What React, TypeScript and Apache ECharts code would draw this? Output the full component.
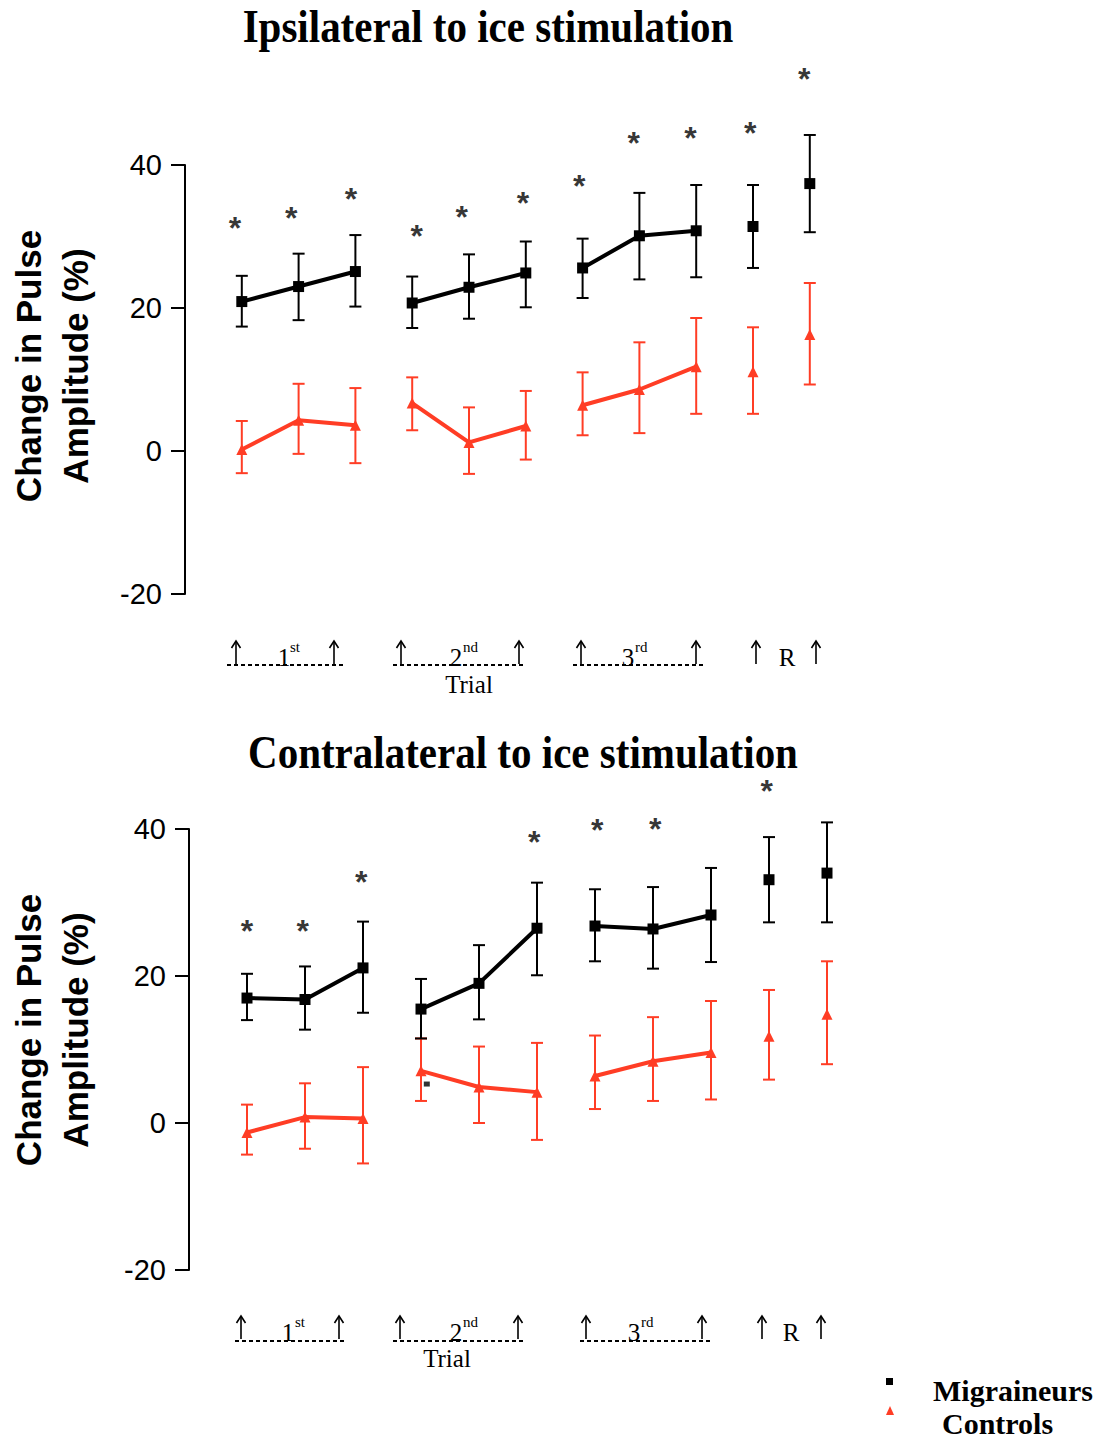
import React, { useEffect, useRef } from "react";
import * as echarts from "echarts";

// ---------- data ----------
const positions = [1, 2, 3, 4, 5, 6, 7, 8, 9, 10, 11];
const groups = [[0, 1, 2], [3, 4, 5], [6, 7, 8], [9], [10]];
const yTicks = [-20, 0, 20, 40];

// Ipsilateral to ice stimulation
const ipsiMig = [20.9, 23.0, 25.1, 20.7, 22.9, 24.9, 25.6, 30.1, 30.8, 31.4, 37.4];
const ipsiMigLow = [17.4, 18.3, 20.2, 17.2, 18.5, 20.1, 21.4, 24.0, 24.3, 25.6, 30.6];
const ipsiMigHigh = [24.5, 27.6, 30.2, 24.4, 27.5, 29.3, 29.7, 36.1, 37.2, 37.2, 44.2];
const ipsiCtl = [0.2, 4.3, 3.6, 6.7, 1.2, 3.5, 6.4, 8.6, 11.8, 11.1, 16.3];
const ipsiCtlLow = [-3.1, -0.4, -1.7, 2.9, -3.2, -1.2, 2.2, 2.5, 5.2, 5.2, 9.3];
const ipsiCtlHigh = [4.2, 9.4, 8.8, 10.3, 6.1, 8.4, 11.0, 15.2, 18.6, 17.3, 23.5];
const ipsiStarX = [0.88, 1.87, 2.92, 4.08, 4.87, 5.95, 6.94, 7.9, 8.9, 9.95, 10.9];
const ipsiStarY = [32.2, 33.5, 36.2, 31.0, 33.7, 35.6, 38.0, 44.0, 44.8, 45.5, 53.0];

// Contralateral to ice stimulation
const contraMig = [17.0, 16.8, 21.1, 15.5, 19.0, 26.5, 26.8, 26.4, 28.3, 33.1, 34.0];
const contraMigLow = [14.0, 12.7, 15.0, 11.5, 14.1, 20.1, 22.0, 21.0, 21.9, 27.3, 27.3];
const contraMigHigh = [20.3, 21.3, 27.4, 19.6, 24.2, 32.7, 31.8, 32.1, 34.7, 38.9, 40.9];
const contraCtl = [-1.3, 0.8, 0.6, 7.1, 4.9, 4.2, 6.4, 8.4, 9.6, 11.8, 14.8];
const contraCtlLow = [-4.3, -3.5, -5.5, 3.0, 0.0, -2.3, 1.9, 3.0, 3.2, 5.9, 8.0];
const contraCtlHigh = [2.5, 5.4, 7.6, 11.5, 10.4, 10.9, 11.9, 14.4, 16.6, 18.1, 22.0];
const contraStarX = [1.0, 1.96, 2.97, 5.95, 7.04, 8.04, 9.96];
const contraStarY = [27.1, 27.1, 33.8, 39.2, 40.8, 41.0, 46.1];
const contraStrayMark = [[4.1, 5.3]];

const titles = ["Ipsilateral to ice stimulation", "Contralateral to ice stimulation"];
const yName = ["Change in Pulse", "Amplitude (%)"];
const trialLabels = [
  { main: "1", sup: "st" },
  { main: "2", sup: "nd" },
  { main: "3", sup: "rd" },
  { main: "R", sup: "" },
];
const legendNames = ["Migraineurs", "Controls"];

// ---------- styles ----------
const BLACK = "#000000";
const RED = "#ff3d25";
const SANS = "'Liberation Sans', Arial, Helvetica, sans-serif";
const SERIF = "'Liberation Serif', 'Times New Roman', Times, serif";

function errorSeries(idx: number, low: number[], high: number[], color: string, z: number) {
  return {
    type: "custom",
    xAxisIndex: idx,
    yAxisIndex: idx,
    z,
    silent: true,
    clip: false,
    data: positions.map((p, i) => [p, low[i], high[i]]),
    encode: { x: 0, y: [1, 2] },
    renderItem: (params: any, api: any) => {
      const x = api.value(0);
      const lo = api.coord([x, api.value(1)]);
      const hi = api.coord([x, api.value(2)]);
      const hw = 6;
      const style = { stroke: color, lineWidth: 2, fill: "none" };
      return {
        type: "group",
        children: [
          { type: "line", shape: { x1: lo[0], y1: lo[1], x2: hi[0], y2: hi[1] }, style },
          { type: "line", shape: { x1: lo[0] - hw, y1: lo[1], x2: lo[0] + hw, y2: lo[1] }, style },
          { type: "line", shape: { x1: hi[0] - hw, y1: hi[1], x2: hi[0] + hw, y2: hi[1] }, style },
        ],
      };
    },
  };
}

function lineSeries(idx: number, vals: number[], color: string, symbol: string, size: number, z: number) {
  return groups.map((g) => ({
    type: "line",
    xAxisIndex: idx,
    yAxisIndex: idx,
    z,
    silent: true,
    clip: false,
    data: g.map((i) => [positions[i], vals[i]]),
    symbol,
    symbolSize: size,
    showSymbol: true,
    lineStyle: { color, width: 4 },
    itemStyle: { color },
  }));
}

function starSeries(idx: number, xs: number[], ys: number[]) {
  return {
    type: "scatter",
    xAxisIndex: idx,
    yAxisIndex: idx,
    z: 10,
    silent: true,
    clip: false,
    data: xs.map((x, i) => [x, ys[i]]),
    symbolSize: 1,
    itemStyle: { color: "rgba(0,0,0,0)" },
    label: {
      show: true,
      formatter: "*",
      position: "inside",
      fontSize: 32,
      fontWeight: "bold",
      color: BLACK,
      fontFamily: SANS,
      offset: [0, 7],
    },
  };
}

type AnnCfg = {
  arrowsX: number[];
  arrowTop: number;
  arrowBottom: number;
  labelX: number[];
  supX: number[];
  mainY: number;
  supY: number;
  dots: number[][];
  dotY: number;
  trialX: number;
  trialY: number;
};

function annotationGraphics(c: AnnCfg) {
  const els: any[] = [];
  const st = { stroke: BLACK, lineWidth: 1.6, fill: "none" };
  c.arrowsX.forEach((x) => {
    els.push({ type: "line", shape: { x1: x, y1: c.arrowTop, x2: x, y2: c.arrowBottom }, style: st });
    els.push({
      type: "polyline",
      shape: { points: [[x - 4.5, c.arrowTop + 7], [x, c.arrowTop], [x + 4.5, c.arrowTop + 7]] },
      style: st,
    });
  });
  trialLabels.forEach((t, i) => {
    els.push({
      type: "text",
      x: c.labelX[i],
      y: c.mainY,
      style: { text: t.main, fontSize: 25, fontFamily: SERIF, fill: BLACK, align: "center", verticalAlign: "middle" },
    });
    if (t.sup) {
      els.push({
        type: "text",
        x: c.supX[i],
        y: c.supY,
        style: { text: t.sup, fontSize: 15, fontFamily: SERIF, fill: BLACK, align: "left", verticalAlign: "middle" },
      });
    }
  });
  c.dots.forEach(([a, b]) =>
    els.push({
      type: "line",
      shape: { x1: a, y1: c.dotY, x2: b, y2: c.dotY },
      style: { stroke: BLACK, lineWidth: 2, lineDash: [4, 3] },
    })
  );
  els.push({
    type: "text",
    x: c.trialX,
    y: c.trialY,
    style: { text: "Trial", fontSize: 25, fontFamily: SERIF, fill: BLACK, align: "center", verticalAlign: "middle" },
  });
  return els;
}

function yAxisCfg(idx: number) {
  return {
    type: "value",
    gridIndex: idx,
    min: yTicks[0],
    max: yTicks[yTicks.length - 1],
    interval: 20,
    axisLine: { show: true, lineStyle: { color: BLACK, width: 2 } },
    axisTick: { show: true, length: 14, lineStyle: { color: BLACK, width: 2 } },
    axisLabel: { color: BLACK, fontSize: 29, fontFamily: SANS, margin: 23 },
    splitLine: { show: false },
  };
}

function xAxisCfg(idx: number) {
  return { type: "value", gridIndex: idx, min: 0, max: 12, show: false };
}

export default function App() {
  const ref = useRef<HTMLDivElement>(null);
  useEffect(() => {
    if (!ref.current) return;
    const chart = echarts.init(ref.current, undefined, { renderer: "svg" });

    const graphics: any[] = [
      {
        type: "text",
        x: 488,
        y: 27,
        scaleY: 1.15,
        style: { text: titles[0], fontSize: 41, fontWeight: "bold", fontFamily: SERIF, fill: BLACK, align: "center", verticalAlign: "middle" },
      },
      {
        type: "text",
        x: 523,
        y: 753,
        scaleY: 1.15,
        style: { text: titles[1], fontSize: 41, fontWeight: "bold", fontFamily: SERIF, fill: BLACK, align: "center", verticalAlign: "middle" },
      },
      {
        type: "text",
        x: 52,
        y: 366,
        rotation: Math.PI / 2,
        style: { text: yName.join("\n"), fontSize: 35, lineHeight: 47, fontWeight: "bold", fontFamily: SANS, fill: BLACK, align: "center", verticalAlign: "middle" },
      },
      {
        type: "text",
        x: 52,
        y: 1030,
        rotation: Math.PI / 2,
        style: { text: yName.join("\n"), fontSize: 35, lineHeight: 47, fontWeight: "bold", fontFamily: SANS, fill: BLACK, align: "center", verticalAlign: "middle" },
      },
      ...annotationGraphics({
        arrowsX: [236, 334, 401, 519, 581, 696, 756, 816],
        arrowTop: 641,
        arrowBottom: 664,
        labelX: [284, 456, 628, 787],
        supX: [290, 463, 635, 0],
        mainY: 657,
        supY: 647,
        dots: [[227, 343], [393, 526], [573, 705]],
        dotY: 665,
        trialX: 469,
        trialY: 684,
      }),
      ...annotationGraphics({
        arrowsX: [241, 339, 400, 518, 586, 702, 762, 821],
        arrowTop: 1316,
        arrowBottom: 1339,
        labelX: [288, 456, 634, 791],
        supX: [295, 463, 641, 0],
        mainY: 1332,
        supY: 1322,
        dots: [[235, 345], [393, 524], [580, 710]],
        dotY: 1341,
        trialX: 447,
        trialY: 1358,
      }),
      // legend
      { type: "rect", shape: { x: 886, y: 1378, width: 7, height: 7 }, style: { fill: BLACK } },
      { type: "polygon", shape: { points: [[890, 1406], [886, 1415], [894, 1415]] }, style: { fill: RED } },
      {
        type: "text",
        x: 933,
        y: 1390,
        style: { text: legendNames[0], fontSize: 30, fontWeight: "bold", fontFamily: SERIF, fill: BLACK, align: "left", verticalAlign: "middle" },
      },
      {
        type: "text",
        x: 942,
        y: 1423,
        style: { text: legendNames[1], fontSize: 30, fontWeight: "bold", fontFamily: SERIF, fill: BLACK, align: "left", verticalAlign: "middle" },
      },
    ];

    const option: any = {
      animation: false,
      backgroundColor: "#ffffff",
      grid: [
        { left: 185, top: 165, width: 681.6, height: 429 },
        { left: 189, top: 829, width: 696, height: 441 },
      ],
      xAxis: [xAxisCfg(0), xAxisCfg(1)],
      yAxis: [yAxisCfg(0), yAxisCfg(1)],
      series: [
        errorSeries(0, ipsiCtlLow, ipsiCtlHigh, RED, 2),
        ...lineSeries(0, ipsiCtl, RED, "triangle", 11, 3),
        errorSeries(0, ipsiMigLow, ipsiMigHigh, BLACK, 4),
        ...lineSeries(0, ipsiMig, BLACK, "rect", 11, 5),
        starSeries(0, ipsiStarX, ipsiStarY),
        errorSeries(1, contraCtlLow, contraCtlHigh, RED, 2),
        ...lineSeries(1, contraCtl, RED, "triangle", 11, 3),
        errorSeries(1, contraMigLow, contraMigHigh, BLACK, 4),
        ...lineSeries(1, contraMig, BLACK, "rect", 11, 5),
        starSeries(1, contraStarX, contraStarY),
        {
          type: "scatter",
          xAxisIndex: 1,
          yAxisIndex: 1,
          z: 6,
          silent: true,
          data: contraStrayMark,
          symbol: "rect",
          symbolSize: [6, 5],
          itemStyle: { color: BLACK },
        },
      ],
      graphic: graphics,
    };
    chart.setOption(option);
    return () => chart.dispose();
  }, []);
  return <div ref={ref} style={{ position: "absolute", left: 0, top: 0, width: 1103, height: 1440 }} />;
}
